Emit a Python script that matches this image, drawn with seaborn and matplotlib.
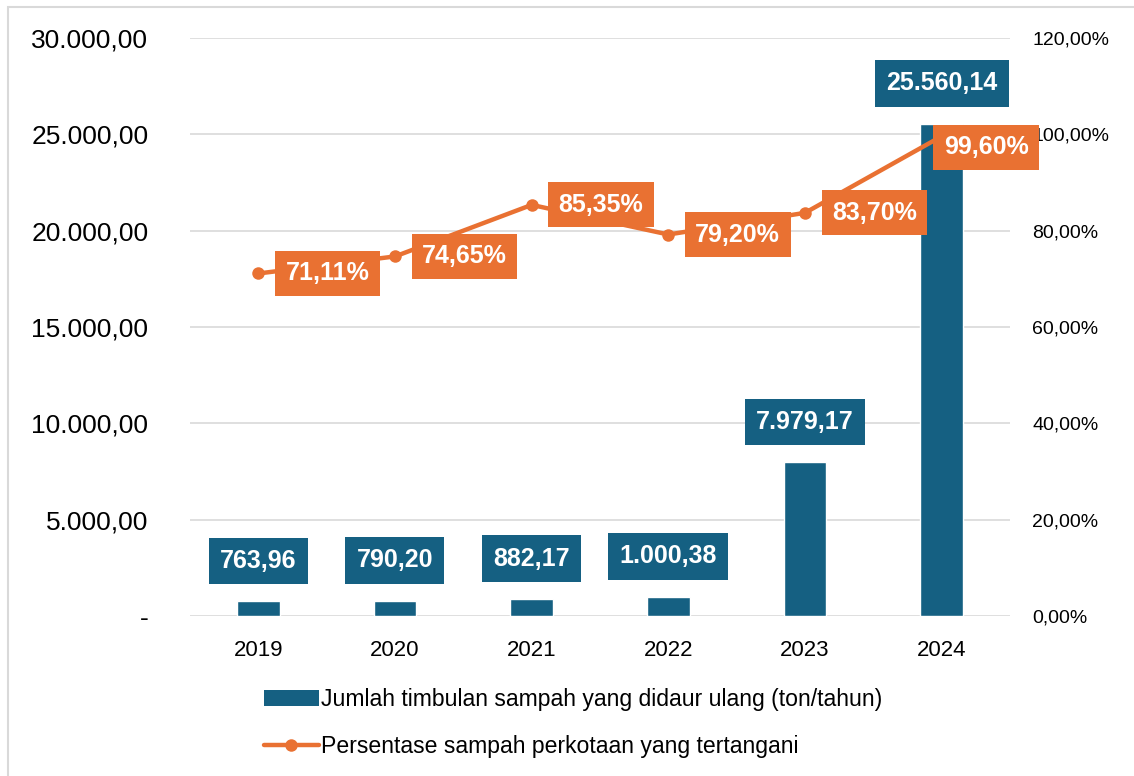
import matplotlib

matplotlib.use("Agg")
import matplotlib.pyplot as plt
from matplotlib.lines import Line2D
from matplotlib.patches import Patch, Rectangle
import numpy as np
import pandas as pd
import seaborn as sns

# data
YEARS = ["2019", "2020", "2021", "2022", "2023", "2024"]
RECYCLED = [763.96, 790.20, 882.17, 1000.38, 7979.17, 25560.14]
HANDLED = [0.7111, 0.7465, 0.8535, 0.7920, 0.8370, 0.9960]
LEFT_TICKS = [0, 5000, 10000, 15000, 20000, 25000, 30000]
RIGHT_TICKS = [0.0, 0.2, 0.4, 0.6, 0.8, 1.0, 1.2]
BAR_LABEL = "Jumlah timbulan sampah yang didaur ulang (ton/tahun)"
LINE_LABEL = "Persentase sampah perkotaan yang tertangani"

BLUE = "#156082"
ORANGE = "#E97132"
GRID = "#D9D9D9"


def id_num(v, dec=2):
    s = f"{v:,.{dec}f}"
    return s.replace(",", "X").replace(".", ",").replace("X", ".")


sns.set_style("white")
plt.rcParams["font.family"] = ["Liberation Sans", "DejaVu Sans"]
plt.rcParams["text.color"] = "black"
plt.rcParams["xtick.color"] = "black"
plt.rcParams["ytick.color"] = "black"

df = pd.DataFrame({"tahun": YEARS, "ton": RECYCLED, "persen": HANDLED})

fig = plt.figure(figsize=(11.34, 7.76), dpi=100)
ax = fig.add_axes([190 / 1134, 1 - 616 / 776, 820 / 1134, 578 / 776])

sns.barplot(data=df, x="tahun", y="ton", color=BLUE, width=0.31,
            saturation=1, ax=ax, zorder=3)
ax.set_ylim(0, 30000)
ax.set_xlim(-0.5, len(YEARS) - 0.5)
ax.set_yticks(LEFT_TICKS)
ax.set_yticklabels(["-"] + [id_num(v) for v in LEFT_TICKS[1:]])
ax.yaxis.grid(True, color=GRID, lw=1.2, zorder=0)
ax.set_axisbelow(True)
ax.tick_params(axis="y", length=0, pad=30, labelsize=19)
ax.tick_params(axis="x", length=0, pad=17, labelsize=16)
ax.set_xlabel("")
ax.set_ylabel("")
for sp in ax.spines.values():
    sp.set_visible(False)

# bar value labels
for i, v in enumerate(RECYCLED):
    ax.annotate(id_num(v), (i, v), xytext=(0, 29), textcoords="offset points",
                ha="center", va="center", color="white", fontsize=18,
                fontweight="bold", zorder=6,
                bbox=dict(boxstyle="square,pad=0.45", fc=BLUE, ec="none"))

ax2 = ax.twinx()
sns.lineplot(x=np.arange(len(YEARS)), y=HANDLED, ax=ax2, color=ORANGE,
             lw=3.2, marker="o", markersize=9, markeredgewidth=0, zorder=4)
ax2.set_ylim(0, 1.2)
ax2.set_xlim(-0.5, len(YEARS) - 0.5)
ax2.set_yticks(RIGHT_TICKS)
ax2.set_yticklabels([id_num(v * 100) + "%" for v in RIGHT_TICKS])
ax2.tick_params(axis="y", length=0, pad=16, labelsize=14)
ax2.set_ylabel("")
for sp in ax2.spines.values():
    sp.set_visible(False)

# line value labels, placed to the right of each point
offsets = [(50, 0)] * 5 + [(32, -8)]
for i, (v, off) in enumerate(zip(HANDLED, offsets)):
    ax2.annotate(id_num(v * 100) + "%", (i, v), xytext=off,
                 textcoords="offset points", ha="center", va="center",
                 color="white", fontsize=18, fontweight="bold", zorder=6,
                 bbox=dict(boxstyle="square,pad=0.42", fc=ORANGE, ec="none"))

handles = [
    Patch(facecolor=BLUE, edgecolor="none"),
    Line2D([], [], color=ORANGE, lw=3.2, marker="o", markersize=9,
           markeredgewidth=0),
]
fig.legend(handles, [BAR_LABEL, LINE_LABEL], loc="center left",
           bbox_to_anchor=(243 / 1134, 1 - 723 / 776), frameon=False,
           fontsize=16.6, handlelength=2.4, handletextpad=0.1,
           labelspacing=1.05)

# thin outer frame like the exported chart area
fig.patches.append(Rectangle((8 / 1134, -0.1), 1.2, 1.1 - 7 / 776,
                             transform=fig.transFigure, fill=False,
                             ec="#D9D9D9", lw=1.5))

fig.savefig("out.png", dpi=100)
